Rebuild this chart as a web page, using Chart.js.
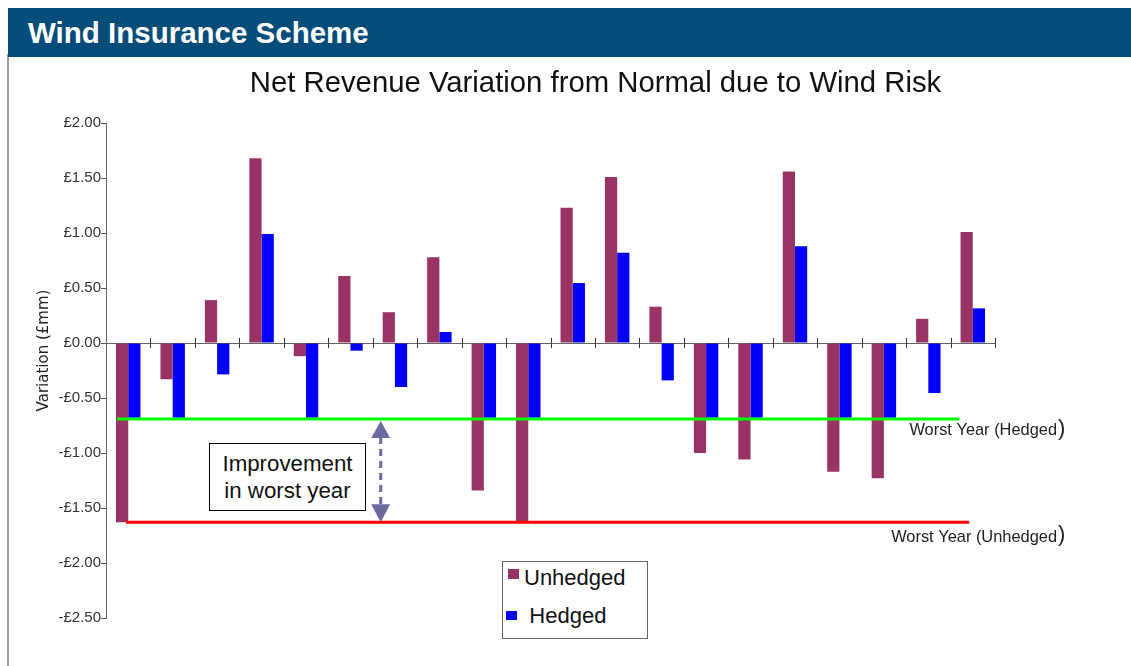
<!DOCTYPE html>
<html><head><meta charset="utf-8">
<script src="https://cdn.jsdelivr.net/npm/chart.js@4.4.1/dist/chart.umd.min.js"></script>
<style>
html,body{margin:0;padding:0;background:#fff;width:1131px;height:666px;overflow:hidden;font-family:"Liberation Sans",Arial,sans-serif;}
#wrap{position:relative;width:1131px;height:666px;}
#c{position:absolute;left:0;top:0;}
#hdr{position:absolute;left:8px;top:8px;right:0;height:49px;background:#044C79;color:#fff;font-weight:bold;font-size:29.5px;line-height:50px;padding-left:20px;box-sizing:border-box;white-space:nowrap;}
#frame{position:absolute;left:7px;top:54px;width:2px;height:612px;background:#a0a0a0;}
#ttl{position:absolute;left:0;width:1191px;top:64px;text-align:center;font-size:29.3px;line-height:36px;color:#111;white-space:nowrap;}
#ann{position:absolute;left:209px;top:443px;width:157px;height:68px;border:1.5px solid #000;box-sizing:border-box;font-size:22.3px;line-height:26.5px;text-align:center;padding-top:7px;color:#111;background:#fff;}
#leg{position:absolute;left:502px;top:561px;width:146px;height:78px;border:1px solid #666;box-sizing:border-box;background:#fff;}
#leg .sq{position:absolute;}
#leg .tx{position:absolute;font-size:22px;line-height:22px;color:#111;white-space:nowrap;}
</style>
</head>
<body>
<div id="wrap">
  <canvas id="c" width="1131" height="666"></canvas>
  <div id="frame"></div>
  <div id="hdr">Wind Insurance Scheme</div>
  <div id="ttl">Net Revenue Variation from Normal due to Wind Risk</div>
  <div id="ann">Improvement<br>in worst year</div>
  <div id="leg"></div>
</div>
<script>
// ---- data ----
const categories = ['Y1','Y2','Y3','Y4','Y5','Y6','Y7','Y8','Y9','Y10','Y11','Y12','Y13','Y14','Y15','Y16','Y17','Y18','Y19','Y20'];
const seriesNames = ['Unhedged','Hedged'];
const unhedged = [-1.63,-0.33,0.39,1.68,-0.12,0.61,0.28,0.78,-1.34,-1.63,1.23,1.51,0.33,-1.00,-1.06,1.56,-1.17,-1.23,0.22,1.01];
const hedged   = [-0.68,-0.68,-0.285,0.99,-0.68,-0.07,-0.40,0.10,-0.68,-0.68,0.545,0.82,-0.34,-0.68,-0.68,0.88,-0.68,-0.68,-0.455,0.315];
const yTicks = [2.0,1.5,1.0,0.5,0.0,-0.5,-1.0,-1.5,-2.0,-2.5];
const worstHedged = -0.69;
const worstUnhedged = -1.63;
const worstLabels = ['Worst Year (Hedged', 'Worst Year (Unhedged'];
const yTitle = 'Variation (£mm)';

const colUnhedged = '#993366';
const colHedged = '#0000FF';

function fmt(v){
  const a = Math.abs(v).toFixed(2);
  return (v < 0 ? '-£' : '£') + a;
}

const extras = {
  id: 'extras',
  afterDatasetsDraw(chart){
    const ctx = chart.ctx;
    const ys = chart.scales.y;
    const L = chart.chartArea.left, R = chart.chartArea.right;
    const cw = (R - L) / categories.length;
    const y0 = ys.getPixelForValue(0);
    ctx.save();
    // category tick marks on the zero axis
    ctx.strokeStyle = '#333';
    ctx.lineWidth = 1;
    for (let i = 1; i <= categories.length; i++){
      const x = Math.round(L + i*cw) + 0.5;
      ctx.beginPath(); ctx.moveTo(x, y0-5); ctx.lineTo(x, y0+5); ctx.stroke();
    }
    // worst-year lines
    const yg = ys.getPixelForValue(worstHedged);
    const yr = ys.getPixelForValue(worstUnhedged);
    ctx.lineWidth = 3;
    ctx.strokeStyle = '#00FF00';
    ctx.beginPath(); ctx.moveTo(L + 0.25*cw, yg); ctx.lineTo(L + 19.2*cw, yg); ctx.stroke();
    ctx.strokeStyle = '#FF0000';
    ctx.beginPath(); ctx.moveTo(L + 0.45*cw, yr); ctx.lineTo(L + 19.42*cw, yr); ctx.stroke();
    // labels
    ctx.fillStyle = '#222';
    ctx.textBaseline = 'middle';
    ctx.font = '16.4px "Liberation Sans", Arial, sans-serif';
    ctx.textAlign = 'right';
    const lx = R + 62;
    ctx.fillText(worstLabels[0], lx, yg + 12);
    ctx.fillText(worstLabels[1], lx, yr + 15);
    ctx.textAlign = 'left';
    ctx.font = '22px "Liberation Sans", Arial, sans-serif';
    ctx.fillText(')', lx + 1, yg + 10);
    ctx.fillText(')', lx + 1, yr + 13);
    // improvement arrow
    const ax = L + 6.18*cw;
    const ac = '#6B6BA0';
    ctx.strokeStyle = ac; ctx.fillStyle = ac;
    ctx.lineWidth = 3;
    ctx.setLineDash([7,5]);
    ctx.beginPath(); ctx.moveTo(ax, yg + 18); ctx.lineTo(ax, yr - 18); ctx.stroke();
    ctx.setLineDash([]);
    ctx.beginPath(); ctx.moveTo(ax, yg + 2); ctx.lineTo(ax - 9.5, yg + 19); ctx.lineTo(ax + 9.5, yg + 19); ctx.closePath(); ctx.fill();
    ctx.beginPath(); ctx.moveTo(ax, yr); ctx.lineTo(ax - 9.5, yr - 18); ctx.lineTo(ax + 9.5, yr - 18); ctx.closePath(); ctx.fill();
    // y axis title
    ctx.translate(L - 61.5, (chart.chartArea.top + chart.chartArea.bottom)/2 - 20);
    ctx.rotate(-Math.PI/2);
    ctx.textAlign = 'center';
    ctx.textBaseline = 'middle';
    ctx.fillStyle = '#222';
    ctx.font = '15px "DejaVu Sans", sans-serif';
    ctx.fillText(yTitle, 0, 0);
    ctx.restore();
  }
};

const chart = new Chart(document.getElementById('c'), {
  type: 'bar',
  data: {
    labels: categories,
    datasets: [
      { label: seriesNames[0], data: unhedged, backgroundColor: colUnhedged, borderWidth: 0 },
      { label: seriesNames[1], data: hedged, backgroundColor: colHedged, borderWidth: 0 }
    ]
  },
  options: {
    responsive: false,
    devicePixelRatio: 1,
    animation: false,
    categoryPercentage: 0.55,
    barPercentage: 1.0,
    layout: { padding: { left: 0, right: 136, top: 123, bottom: 48 } },
    plugins: { legend: { display: false }, tooltip: { enabled: false }, title: { display: false } },
    scales: {
      x: {
        type: 'category',
        position: { y: 0 },
        offset: true,
        ticks: { display: false },
        grid: { display: false, drawTicks: false },
        border: { display: true, color: '#666', width: 1 }
      },
      y: {
        min: -2.5, max: 2.0,
        afterBuildTicks: s => { s.ticks = yTicks.map(v => ({ value: v })); },
        afterFit: s => { s.width = 106; },
        ticks: { color: '#333', padding: 0, font: { family: 'Liberation Sans', size: 15 }, callback: v => fmt(v) },
        grid: { drawOnChartArea: false, drawTicks: true, tickLength: 5, color: '#555' },
        border: { display: true, color: '#666', width: 1 }
      }
    }
  },
  plugins: [extras]
});

// HTML legend built from the chart's datasets
(function(){
  const leg = document.getElementById('leg');
  const pos = [
    { sq: [4.7, 6.7, 11, 10], tx: [21, 5.1] },
    { sq: [2.7, 49, 11, 9], tx: [26.3, 43.4] }
  ];
  chart.data.datasets.forEach((ds, i) => {
    const p = pos[i];
    const sq = document.createElement('div');
    sq.className = 'sq';
    sq.style.cssText = `left:${p.sq[0]}px;top:${p.sq[1]}px;width:${p.sq[2]}px;height:${p.sq[3]}px;background:${ds.backgroundColor};`;
    const tx = document.createElement('div');
    tx.className = 'tx';
    tx.style.cssText = `left:${p.tx[0]}px;top:${p.tx[1]}px;`;
    tx.textContent = ds.label;
    leg.appendChild(sq); leg.appendChild(tx);
  });
})();
</script>
</body></html>
